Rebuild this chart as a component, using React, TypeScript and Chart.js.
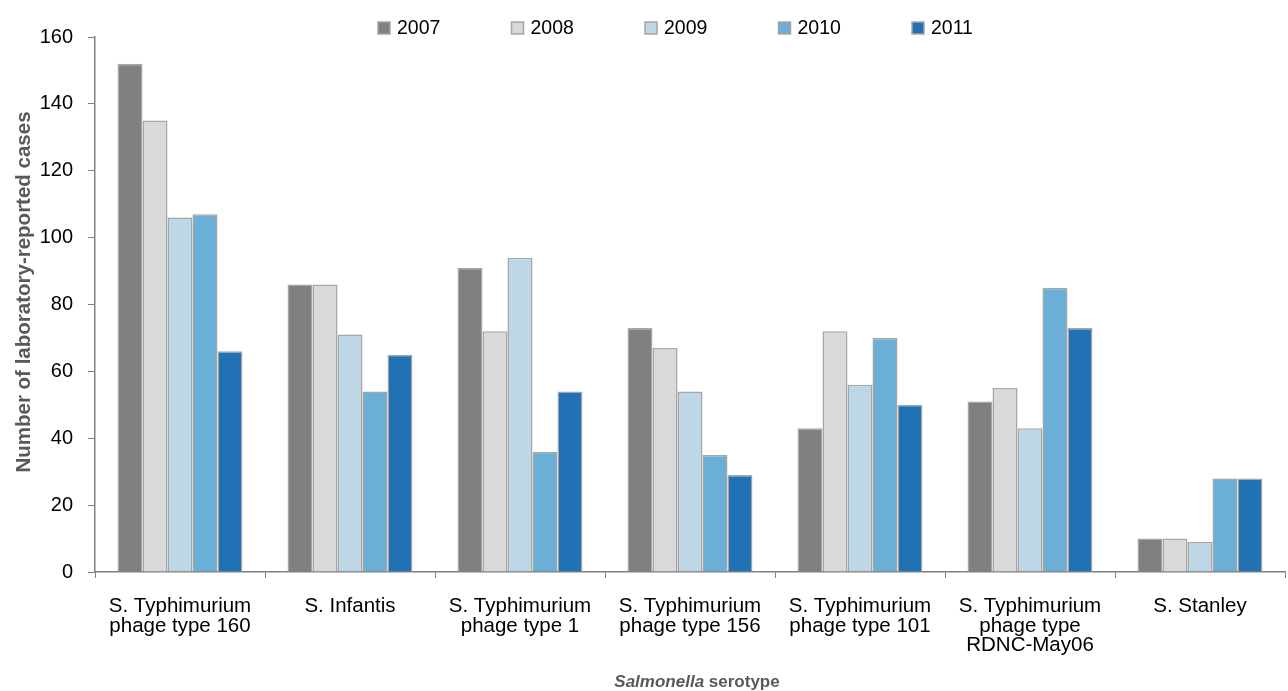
import React, { useEffect, useRef } from 'react';
import { Chart, registerables } from 'chart.js';
Chart.register(...registerables);

const categories: string[][] = [
  ['S. Typhimurium', 'phage type 160'],
  ['S. Infantis'],
  ['S. Typhimurium', 'phage type 1'],
  ['S. Typhimurium', 'phage type 156'],
  ['S. Typhimurium', 'phage type 101'],
  ['S. Typhimurium', 'phage type', 'RDNC-May06'],
  ['S. Stanley'],
];
const years = ['2007', '2008', '2009', '2010', '2011'];
const cases2007 = [152, 86, 91, 73, 43, 51, 10];
const cases2008 = [135, 86, 72, 67, 72, 55, 10];
const cases2009 = [106, 71, 94, 54, 56, 43, 9];
const cases2010 = [107, 54, 36, 35, 70, 85, 28];
const cases2011 = [66, 65, 54, 29, 50, 73, 28];
const yTicks = [0, 20, 40, 60, 80, 100, 120, 140, 160];
const colors = ['#808080', '#D9D9D9', '#BDD7E7', '#6BAED6', '#2171B5'];
const yTitle = 'Number of laboratory-reported cases';

const FONT = "'Liberation Sans', Arial, sans-serif";

const titlesPlugin = {
  id: 'titles',
  afterDraw(chart: any) {
    const { ctx } = chart;
    ctx.save();
    ctx.fillStyle = '#595959';
    ctx.textBaseline = 'middle';
    const p1 = 'Salmonella';
    const p2 = ' serotype';
    ctx.font = `italic bold 17px ${FONT}`;
    const w1 = ctx.measureText(p1).width;
    ctx.font = `bold 17px ${FONT}`;
    const w2 = ctx.measureText(p2).width;
    const start = 697 - (w1 + w2) / 2;
    ctx.textAlign = 'left';
    ctx.font = `italic bold 17px ${FONT}`;
    ctx.fillText(p1, start, 682);
    ctx.font = `bold 17px ${FONT}`;
    ctx.fillText(p2, start + w1, 682);
    ctx.translate(24, 292);
    ctx.rotate(-Math.PI / 2);
    ctx.textAlign = 'center';
    ctx.font = `bold 20.5px ${FONT}`;
    ctx.fillText(yTitle, 0, 0);
    ctx.restore();
  },
};

const legendPlugin = {
  id: 'customLegend',
  afterDraw(chart: any) {
    const { ctx } = chart;
    const startX = 378;
    const step = 133.5;
    const yc = 28;
    ctx.save();
    chart.data.datasets.forEach((ds: any, i: number) => {
      const x = startX + i * step;
      ctx.fillStyle = ds.backgroundColor;
      ctx.fillRect(x, yc - 6, 12, 12);
      ctx.strokeStyle = '#A6A6A6';
      ctx.lineWidth = 1.5;
      ctx.strokeRect(x, yc - 6, 12, 12);
      ctx.fillStyle = '#000';
      ctx.font = `19.5px ${FONT}`;
      ctx.textBaseline = 'middle';
      ctx.textAlign = 'left';
      ctx.fillText(ds.label, x + 19, yc + 1);
    });
    ctx.restore();
  },
};

export default function App() {
  const ref = useRef<HTMLCanvasElement>(null);
  useEffect(() => {
    document.body.style.margin = '0';
    const series = [cases2007, cases2008, cases2009, cases2010, cases2011];
    const chart = new Chart(ref.current!, {
      type: 'bar',
      data: {
        labels: categories,
        datasets: years.map((y, i) => ({
          label: y,
          data: series[i],
          backgroundColor: colors[i],
          borderColor: '#A6A6A6',
          borderWidth: 1.5,
          categoryPercentage: 0.735,
          barPercentage: 1,
        })),
      },
      options: {
        animation: false,
        responsive: false,
        maintainAspectRatio: false,
        layout: { padding: { left: 12, right: 3, top: 37, bottom: 0 } },
        plugins: {
          legend: { display: false },
          tooltip: { enabled: false },
        },
        scales: {
          x: {
            grid: { display: true, drawOnChartArea: false, drawTicks: true, tickLength: 6, color: '#808080', offset: true },
            border: { color: '#808080', width: 1.5 },
            ticks: { color: '#000', font: { family: FONT, size: 20.5, lineHeight: 0.95 }, maxRotation: 0, autoSkip: false, padding: 19 },
            afterFit(scale: any) { scale.height = 119; },
          },
          y: {
            min: 0,
            max: 160,
            afterBuildTicks(scale: any) { scale.ticks = yTicks.map((v) => ({ value: v })); },
            grid: { display: true, drawOnChartArea: false, drawTicks: true, tickLength: 7, color: '#808080' },
            border: { color: '#808080', width: 1.5 },
            ticks: { color: '#000', font: { family: FONT, size: 20 }, padding: 15 },
            afterFit(scale: any) { scale.width = 83; },
          },
        },
      },
      plugins: [titlesPlugin, legendPlugin],
    });
    return () => chart.destroy();
  }, []);
  return <canvas ref={ref} width={1288} height={691} style={{ display: 'block' }} />;
}
